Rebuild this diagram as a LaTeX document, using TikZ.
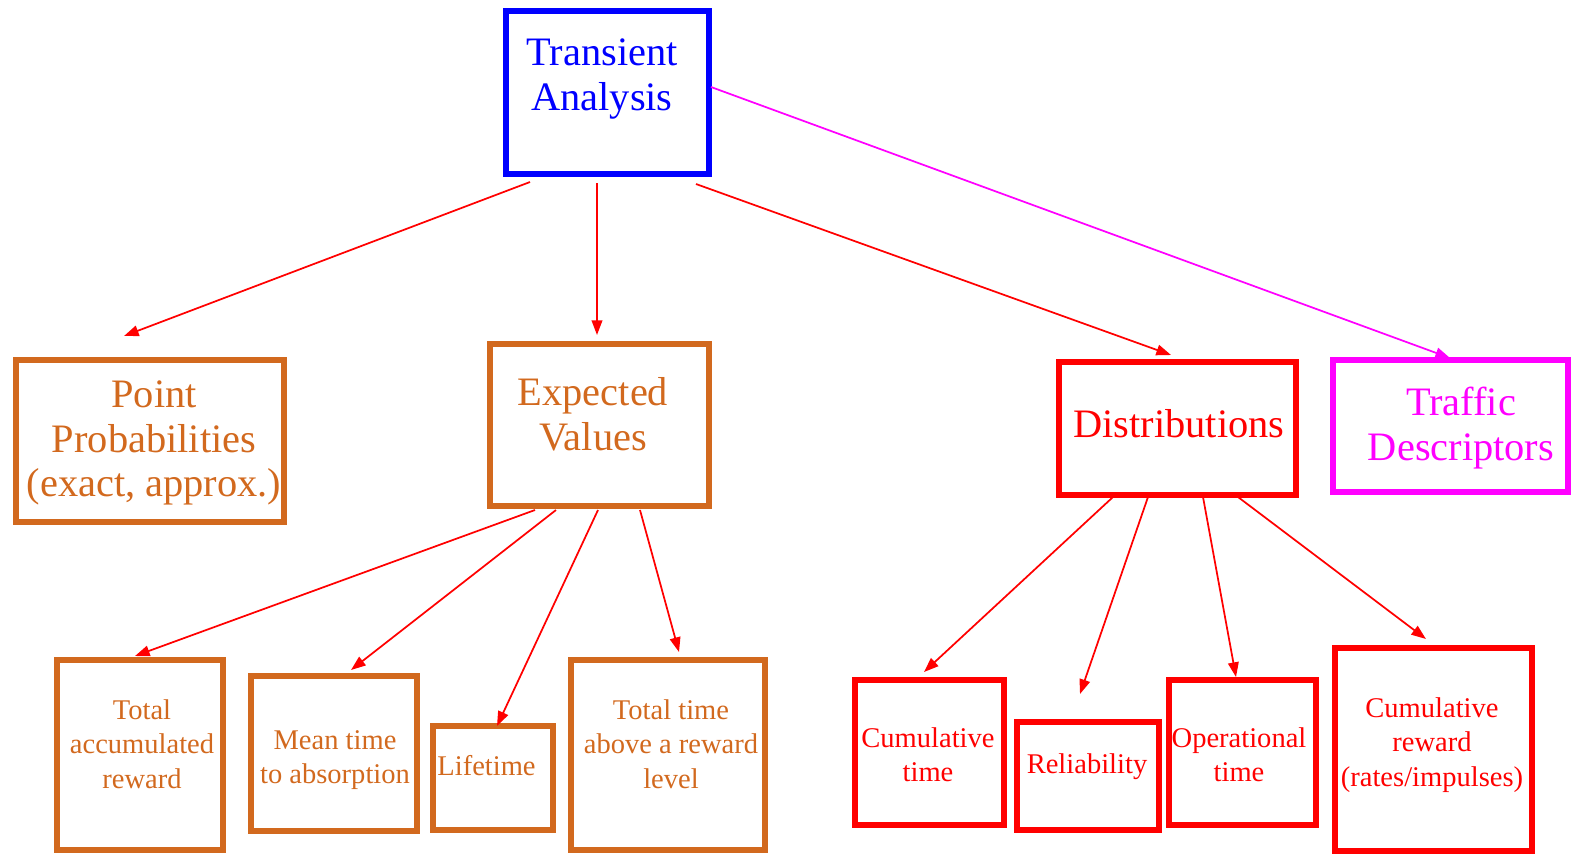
\documentclass[tikz,border=0pt]{standalone}
\usepackage{fontspec}
\setmainfont{Liberation Serif}
\usetikzlibrary{fit,arrows.meta}
\definecolor{ochre}{RGB}{210,105,30}
\definecolor{pureblue}{RGB}{0,0,255}
\definecolor{purered}{RGB}{255,0,0}
\definecolor{puremagenta}{RGB}{255,0,255}
\begin{document}
\begin{tikzpicture}[x=0.75pt,y=-0.75pt,
  box/.style={draw=#1, line width=4.5pt, inner sep=0pt, outer sep=0pt, rectangle},
  bigtxt/.style={text=#1, align=center, inner sep=0pt, font=\fontsize{30.3}{33.4}\selectfont},
  smalltxt/.style={text=#1, align=center, inner sep=0pt, font=\fontsize{21.4}{25.9}\selectfont},
  arr/.style={draw=#1, line width=1.3pt, -{Triangle[length=11pt,width=8pt]}},
  arr/.default=purered]
\useasboundingbox (0,0) rectangle (1571,854);

% top level
\node[box=pureblue, fit={(506,11) (709,174)}] (tr) {};
\node[bigtxt=pureblue] (trt) at (602,79) {Transient\\Analysis};

% second level
\node[box=ochre, fit={(16,360) (284,522)}] (pp) {};
\node[bigtxt=ochre] (ppt) at (154,443) {Point\\Probabilities\\(exact, approx.)};
\node[box=ochre, fit={(490,344) (709,506)}] (ev) {};
\node[bigtxt=ochre] (evt) at (593,414.5) {Expected\\Values};
\node[box=purered, fit={(1059,362) (1296,495)}] (di) {};
\node[bigtxt=purered] (dit) at (1179,424) {Distributions};
\node[box=puremagenta, fit={(1333,360) (1568,492)}] (td) {};
\node[bigtxt=puremagenta] (tdt) at (1461,428) {Traffic\\Descriptors};

% expected values children
\node[box=ochre, fit={(57,660) (223,850)}] (ta) {};
\node[smalltxt=ochre] (tat) at (142,744) {Total\\accumulated\\reward};
\node[box=ochre, fit={(251,676) (417,831)}] (mt) {};
\node[smalltxt=ochre] (mtt) at (335,760) {Mean time\\to absorption};
\node[box=ochre, fit={(433,726) (553,830)}] (lt) {};
\node[smalltxt=ochre] (ltt) at (486.5,765.5) {Lifetime};
\node[box=ochre, fit={(571,660) (765,850)}] (tt) {};
\node[smalltxt=ochre] (ttt) at (671,744) {Total time\\above a reward\\level};

% distributions children
\node[box=purered, fit={(855,680) (1004,825)}] (ct) {};
\node[smalltxt=purered] (ctt) at (928,754.5) {Cumulative\\time};
\node[box=purered, fit={(1017,722) (1159,830)}] (rl) {};
\node[smalltxt=purered] (rlt) at (1087,766.5) {Reliability};
\node[box=purered, fit={(1169,680) (1316,825)}] (ot) {};
\node[smalltxt=purered] (ott) at (1239,754.5) {Operational\\time};
\node[box=purered, fit={(1335,648) (1532,851)}] (cr) {};
\node[smalltxt=purered] (crt) at (1432,745) {Cumulative\\reward\\(rates/impulses)};

% connectors
\draw[arr] ([shift={(24,8)}]tr.south west) -- ([shift={(108,-24)}]pp.north west);
\draw[arr] ([shift={(91,9)}]tr.south west) -- ([shift={(107,-9)}]ev.north west);
\draw[arr] ([shift={(190,10)}]tr.south west) -- ([shift={(112,-7)}]di.north west);
\draw[arr=puremagenta] ([shift={(2,76)}]tr.north east) -- ([shift={(117,-2)}]td.north west);

\draw[arr] ([shift={(45,4)}]ev.south west) -- ([shift={(78,-4)}]ta.north west);
\draw[arr] ([shift={(66,4)}]ev.south west) -- ([shift={(100,-6)}]mt.north west);
\draw[arr] ([shift={(108,4)}]ev.south west) -- ([shift={(64,0)}]lt.north west);
\draw[arr] ([shift={(150,4)}]ev.south west) -- ([shift={(108,-8)}]tt.north west);

\draw[arr] ([shift={(54,2)}]di.south west) -- ([shift={(69,-8)}]ct.north west);
\draw[arr] ([shift={(89,2)}]di.south west) -- ([shift={(63,-28)}]rl.north west);
\draw[arr] ([shift={(144,2)}]di.south west) -- ([shift={(67,-3)}]ot.north west);
\draw[arr] ([shift={(179,2)}]di.south west) -- ([shift={(91,-9)}]cr.north west);
\end{tikzpicture}
\end{document}
